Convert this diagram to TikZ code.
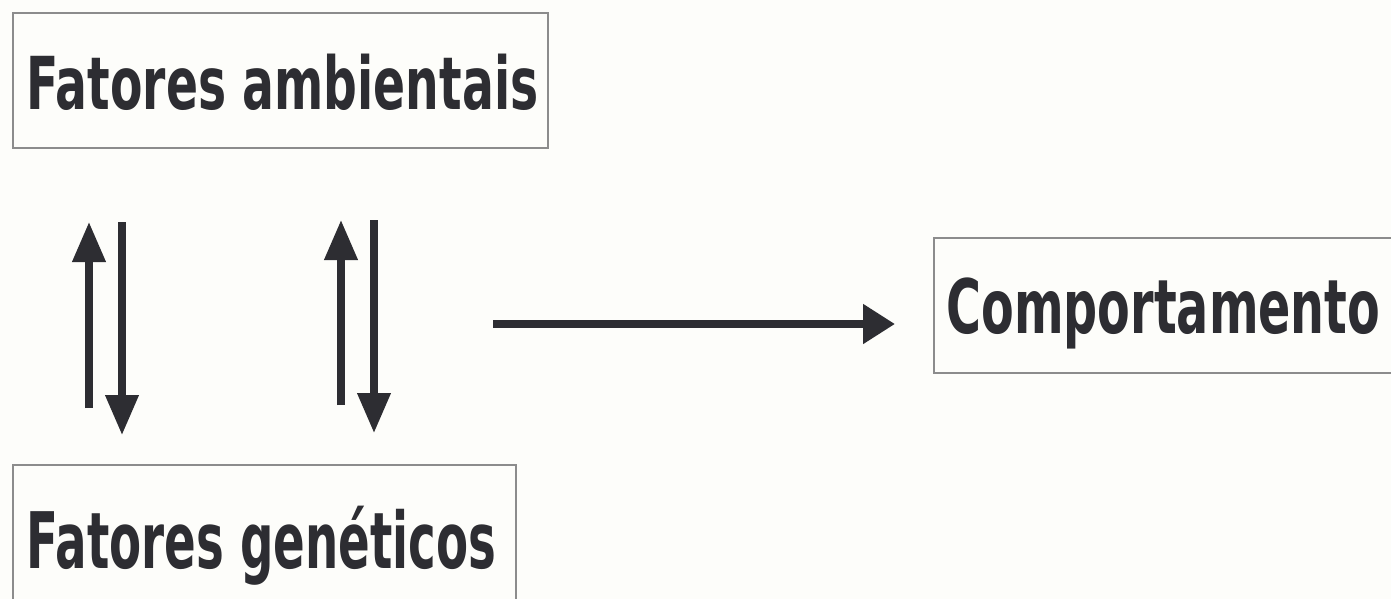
\documentclass[tikz,border=0pt]{standalone}
\usepackage{fontspec}
\usepackage{graphicx}
\usetikzlibrary{arrows.meta}
\newfontfamily\boxfont{DejaVu Sans}
\definecolor{ink}{RGB}{45,45,50}
\definecolor{paper}{RGB}{253,253,250}
\definecolor{frame}{RGB}{140,140,140}
\begin{document}
\begin{tikzpicture}[x=0.5pt,y=-0.5pt,
  boxframe/.style={draw=frame, line width=0.8pt, rectangle, inner sep=0pt, anchor=north west},
  lbl/.style={inner sep=0pt, anchor=base west, text=ink},
  arr/.style={draw=ink, line width=3.6pt, -{Triangle[width=16pt,length=20pt]}},
  harr/.style={draw=ink, line width=4pt, -{Triangle[width=19pt,length=16pt]}}
]
\useasboundingbox (0,0) rectangle (1391,599);
\fill[paper] (0,0) rectangle (1391,599);
\clip (0,0) rectangle (1391,599);

% boxes
\node[boxframe, minimum width=267.5pt, minimum height=67.5pt] (amb) at (12,12) {};
\node[boxframe, minimum width=251.5pt, minimum height=90pt] (gen) at (12,464) {};
\node[boxframe, minimum width=240pt, minimum height=67.5pt] (comp) at (933,237) {};

% labels
\node[lbl] (ambt) at (26,110) {\resizebox{256pt}{\height}{\boxfont\fontsize{36.5pt}{40pt}\selectfont\bfseries Fatores ambientais}};
\node[lbl] (gent) at (26,568) {\resizebox{235pt}{\height}{\boxfont\fontsize{39pt}{42pt}\selectfont\bfseries Fatores genéticos}};
\node[lbl] (compt) at (946,333) {\resizebox{217pt}{\height}{\boxfont\fontsize{37.5pt}{41pt}\selectfont\bfseries Comportamento}};

% arrow ends
\coordinate (u1s) at (89,408);  \coordinate (u1e) at (89,222);
\coordinate (d1s) at (122,222); \coordinate (d1e) at (122,435);
\coordinate (u2s) at (341,405); \coordinate (u2e) at (341,220);
\coordinate (d2s) at (374,220); \coordinate (d2e) at (374,433);
\coordinate (hs) at (493,324);  \coordinate (he) at (895,324);

\draw[arr] (u1s) -- (u1e);
\draw[arr] (d1s) -- (d1e);
\draw[arr] (u2s) -- (u2e);
\draw[arr] (d2s) -- (d2e);
\draw[harr] (hs) -- (he);
\end{tikzpicture}
\end{document}
